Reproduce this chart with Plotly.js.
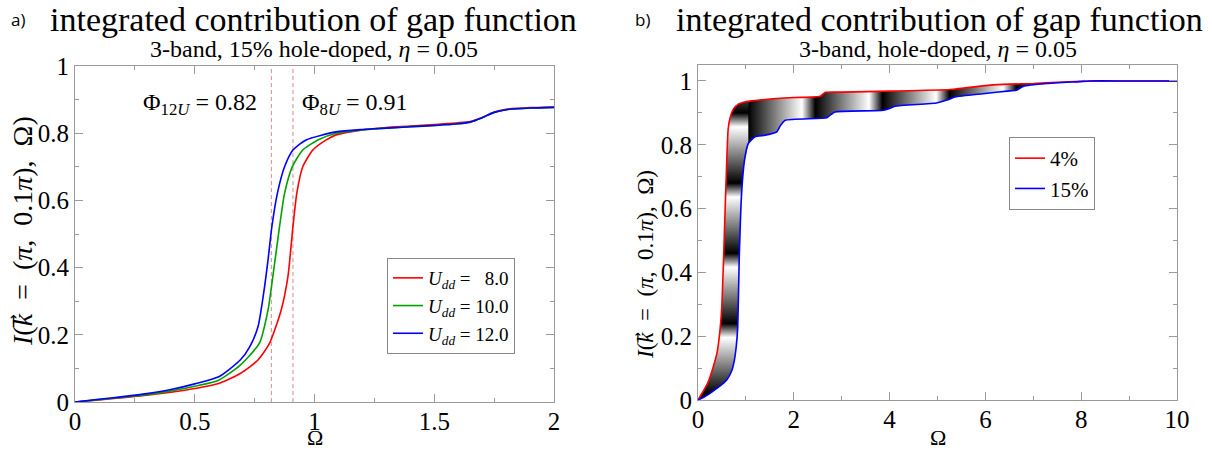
<!DOCTYPE html>
<html>
<head>
<meta charset="utf-8">
<script src="https://cdn.plot.ly/plotly-3.0.1.min.js"></script>
<style>html,body{margin:0;padding:0;background:#fff}#chart{width:1212px;height:452px}</style>
</head>
<body>
<div id="chart"></div>
<script>
// ---------- Panel a) : 3-band, 15% hole-doped ----------
const xU8  = [0, 0.1, 0.2, 0.3, 0.4, 0.5, 0.6, 0.69, 0.764, 0.8125, 0.861, 0.889, 0.91, 0.926, 0.951, 0.993, 1.049, 1.09, 1.2, 1.3, 1.4, 1.5, 1.6, 1.65, 1.7, 1.75, 1.8, 1.9, 2.0];
const yU8  = [0, 0.006, 0.013, 0.02, 0.029, 0.04, 0.055, 0.085, 0.125, 0.175, 0.274, 0.373, 0.522, 0.621, 0.70, 0.75, 0.78, 0.795, 0.81, 0.817, 0.821, 0.826, 0.831, 0.835, 0.847, 0.863, 0.871, 0.876, 0.878];
const xU10 = [0, 0.1, 0.2, 0.3, 0.4, 0.5, 0.6, 0.69, 0.77, 0.806, 0.826, 0.854, 0.875, 0.907, 0.951, 1.014, 1.09, 1.2, 1.3, 1.4, 1.5, 1.6, 1.65, 1.7, 1.75, 1.8, 1.9, 2.0];
const yU10 = [0, 0.007, 0.014, 0.022, 0.033, 0.047, 0.065, 0.11, 0.175, 0.274, 0.373, 0.522, 0.621, 0.70, 0.75, 0.78, 0.80, 0.81, 0.815, 0.819, 0.823, 0.828, 0.833, 0.846, 0.862, 0.870, 0.875, 0.877];
const xU12 = [0, 0.1, 0.2, 0.3, 0.4, 0.5, 0.6, 0.69, 0.73, 0.764, 0.7875, 0.806, 0.822, 0.845, 0.875, 0.91, 0.965, 1.09, 1.2, 1.3, 1.4, 1.5, 1.6, 1.65, 1.7, 1.75, 1.8, 1.9, 2.0];
const yU12 = [0, 0.008, 0.016, 0.025, 0.037, 0.054, 0.075, 0.125, 0.165, 0.224, 0.323, 0.423, 0.522, 0.621, 0.70, 0.75, 0.78, 0.804, 0.811, 0.815, 0.819, 0.823, 0.828, 0.833, 0.846, 0.862, 0.870, 0.875, 0.877];
const seriesNamesA = ['<i>U</i><sub><i>dd</i></sub> = \u00A0\u00A08.0', '<i>U</i><sub><i>dd</i></sub> = 10.0', '<i>U</i><sub><i>dd</i></sub> = 12.0'];
const phiValues = [0.82, 0.91];
const phiLabels = ['\u03A6<sub>12<i>U</i></sub> = 0.82', '\u03A6<sub>8<i>U</i></sub> = 0.91'];
const phiLineY = [0, 1];

// ---------- Panel b) : 3-band, hole-doped ----------
const x4  = [0, 0.1, 0.2, 0.3, 0.4, 0.46, 0.5, 0.55, 0.6, 0.63, 0.68, 0.74, 0.85, 0.98, 1.05, 1.4, 2.0, 2.55, 2.65, 3.0, 4.0, 5.26, 6.1, 6.5, 7.0, 7.5, 8.0, 8.2, 9.0, 10.0];
const y4  = [0, 0.025, 0.052, 0.095, 0.15, 0.22, 0.30, 0.52, 0.75, 0.85, 0.89, 0.912, 0.928, 0.934, 0.936, 0.942, 0.948, 0.952, 0.964, 0.965, 0.968, 0.973, 0.987, 0.99, 0.992, 0.996, 0.999, 1.0, 1.0, 1.0];
const x15 = [0, 0.1, 0.25, 0.4, 0.6, 0.7, 0.76, 0.8, 0.83, 0.86, 0.91, 0.97, 1.05, 1.19, 1.4, 1.64, 1.72, 1.82, 2.69, 2.78, 2.86, 3.87, 4.0, 4.11, 4.98, 5.2, 5.37, 5.95, 6.51, 6.65, 6.79, 7.28, 7.97, 8.18, 9.0, 10.0];
const y15 = [0, 0.007, 0.021, 0.037, 0.063, 0.09, 0.125, 0.17, 0.23, 0.438, 0.647, 0.75, 0.804, 0.825, 0.83, 0.84, 0.86, 0.877, 0.885, 0.895, 0.903, 0.908, 0.914, 0.921, 0.931, 0.94, 0.95, 0.96, 0.969, 0.971, 0.983, 0.992, 0.998, 1.0, 1.0, 1.0];
const seriesNamesB = ['4%', '15%'];
const bandSplitX = 1.05;

const SERIF = 'Liberation Serif';
const SANS = 'Open Sans';
const AX = '#9a9a9a';

function band(xa, ya, xb, yb, lo, hi) {
  const px = [], py = [];
  for (let i = 0; i < xa.length; i++) if (xa[i] >= lo && xa[i] <= hi) { px.push(xa[i]); py.push(ya[i]); }
  for (let i = xb.length - 1; i >= 0; i--) if (xb[i] >= lo && xb[i] <= hi) { px.push(xb[i]); py.push(yb[i]); }
  return {px, py};
}
function sawtooth(n, frac) {
  const cs = [];
  for (let k = 0; k < n; k++) {
    cs.push([k / n, '#000000']);
    cs.push([(k + frac) / n, '#ffffff']);
  }
  cs.push([1, '#000000']);
  return cs;
}

const bandLeft = band(x4, y4, x15, y15, 0, bandSplitX);
const bandRight = band(x4, y4, x15, y15, bandSplitX, 10);

const colorsA = ['#ff0000', '#00a000', '#0000ff'];
const xsA = [xU8, xU10, xU12], ysA = [yU8, yU10, yU12];

const traces = [];
phiValues.forEach(v => traces.push({
  x: [v, v], y: phiLineY, mode: 'lines', xaxis: 'x', yaxis: 'y',
  line: {color: '#d4a0a0', width: 1.2, dash: '4px,3px'}, showlegend: false, hoverinfo: 'skip'
}));
xsA.forEach((xs, i) => traces.push({
  x: xs, y: ysA[i], mode: 'lines', name: seriesNamesA[i], xaxis: 'x', yaxis: 'y',
  line: {color: colorsA[i], width: 1.6, shape: 'spline', smoothing: 0.6}, legend: 'legend'
}));
traces.push({
  x: bandLeft.px, y: bandLeft.py, mode: 'lines', fill: 'toself', xaxis: 'x2', yaxis: 'y2',
  line: {width: 0, shape: 'spline', smoothing: 0.5}, showlegend: false, hoverinfo: 'skip',
  fillgradient: {type: 'vertical', colorscale: sawtooth(5, 0.8), start: 0.02, stop: 1.12}
});
traces.push({
  x: bandRight.px, y: bandRight.py, mode: 'lines', fill: 'toself', xaxis: 'x2', yaxis: 'y2',
  line: {width: 0, shape: 'spline', smoothing: 0.5}, showlegend: false, hoverinfo: 'skip',
  fillgradient: {type: 'horizontal', colorscale: sawtooth(6, 0.8), start: 1.05, stop: 9.45}
});
traces.push({x: x4, y: y4, mode: 'lines', name: seriesNamesB[0], xaxis: 'x2', yaxis: 'y2',
  line: {color: '#ff0000', width: 1.6, shape: 'spline', smoothing: 0.5}, legend: 'legend2'});
traces.push({x: x15, y: y15, mode: 'lines', name: seriesNamesB[1], xaxis: 'x2', yaxis: 'y2',
  line: {color: '#0000ff', width: 1.6, shape: 'spline', smoothing: 0.5}, legend: 'legend2'});

function axis(extra) {
  return Object.assign({
    showgrid: false, zeroline: false, showline: true, linecolor: AX, linewidth: 1,
    mirror: 'ticks', ticks: 'inside', ticklen: 8, tickwidth: 1, tickcolor: AX,
    tickfont: {family: SERIF, size: 25, color: '#000'}, fixedrange: true
  }, extra);
}
const W = 1212, H = 452;
const px = v => v / W, py = v => 1 - v / H;

const NB = '\u00A0';
const yTitle = '<i>I</i>(<i>k</i>\u20D7' + NB + NB + '=' + NB + NB + '(<i>\u03C0</i>,' + NB + NB + '0.1<i>\u03C0</i>),' + NB + NB + '\u03A9)';

const annotations = [
  {text: 'a)', x: px(9), y: py(19), xanchor: 'left', yanchor: 'middle', font: {family: SANS, size: 17, color: '#000'}},
  {text: 'integrated contribution of gap function', x: px(313), y: py(20), xanchor: 'center', yanchor: 'middle', font: {family: SERIF, size: 34, color: '#000'}},
  {text: '3-band, 15% hole-doped, <i>\u03B7</i> = 0.05', x: px(314), y: py(49), xanchor: 'center', yanchor: 'middle', font: {family: SERIF, size: 24, color: '#000'}},
  {text: 'b)', x: px(633), y: py(19), xanchor: 'left', yanchor: 'middle', font: {family: SANS, size: 17, color: '#000'}},
  {text: 'integrated contribution of gap function', x: px(940), y: py(20), xanchor: 'center', yanchor: 'middle', font: {family: SERIF, size: 34, color: '#000'}},
  {text: '3-band, hole-doped, <i>\u03B7</i> = 0.05', x: px(938), y: py(49), xanchor: 'center', yanchor: 'middle', font: {family: SERIF, size: 24, color: '#000'}},
  {text: phiLabels[0], x: px(200), y: py(104), xanchor: 'center', yanchor: 'middle', font: {family: SERIF, size: 24, color: '#000'}},
  {text: phiLabels[1], x: px(355), y: py(104), xanchor: 'center', yanchor: 'middle', font: {family: SERIF, size: 24, color: '#000'}},
  {text: yTitle, x: px(23), y: py(231), textangle: -90, xanchor: 'center', yanchor: 'middle', font: {family: SERIF, size: 28, color: '#000'}},
  {text: yTitle, x: px(645), y: py(265), textangle: -90, xanchor: 'center', yanchor: 'middle', font: {family: SERIF, size: 23, color: '#000'}},
  {text: '\u03A9', x: px(315), y: 0, xanchor: 'center', yanchor: 'bottom', font: {family: SERIF, size: 22, color: '#000'}},
  {text: '\u03A9', x: px(938), y: 0, xanchor: 'center', yanchor: 'bottom', font: {family: SERIF, size: 22, color: '#000'}}
].map(a => Object.assign({xref: 'paper', yref: 'paper', showarrow: false}, a));

const layout = {
  width: W, height: H, margin: {l: 0, r: 0, t: 0, b: 0},
  font: {family: SERIF, size: 24, color: '#000'},
  paper_bgcolor: '#fff', plot_bgcolor: '#fff',
  xaxis: axis({domain: [px(75), px(554)], range: [0, 2], anchor: 'y', dtick: 0.5, tick0: 0, ticklabelstandoff: -3,
    minor: {ticks: 'inside', ticklen: 4, dtick: 0.25, tickcolor: AX, showgrid: false}}),
  yaxis: axis({domain: [(H - 402) / H, (H - 66) / H], range: [0, 1], anchor: 'x', dtick: 0.2, tick0: 0,
    minor: {ticks: 'inside', ticklen: 4, dtick: 0.1, tickcolor: AX, showgrid: false}}),
  xaxis2: axis({domain: [px(698), px(1177)], range: [0, 10], anchor: 'y2', dtick: 2, tick0: 0, ticklabelstandoff: -3,
    minor: {ticks: 'inside', ticklen: 4, dtick: 1, tickcolor: AX, showgrid: false}}),
  yaxis2: axis({domain: [(H - 400) / H, (H - 65) / H], range: [0, 1.05], anchor: 'x2', dtick: 0.2, tick0: 0,
    minor: {ticks: 'inside', ticklen: 4, dtick: 0.1, tickcolor: AX, showgrid: false}}),
  legend: {x: px(387), y: py(258), xanchor: 'left', yanchor: 'top', bgcolor: '#fff',
    bordercolor: '#888', borderwidth: 1, font: {family: SERIF, size: 19, color: '#000'}, itemwidth: 30, tracegroupgap: 0},
  legend2: {x: px(1009), y: py(137), xanchor: 'left', yanchor: 'top', bgcolor: '#fff',
    bordercolor: '#888', borderwidth: 1, font: {family: SERIF, size: 21, color: '#000'}, itemwidth: 30, tracegroupgap: 0},
  annotations: annotations,
  showlegend: true
};

Plotly.newPlot('chart', traces, layout, {staticPlot: true, displayModeBar: false}).then(gd => {
  gd.querySelectorAll('.xtick text, .ytick text, .x2tick text, .y2tick text').forEach(t => {
    t.style.fontFamily = '"Liberation Serif", serif';
  });
});
</script>
</body>
</html>
